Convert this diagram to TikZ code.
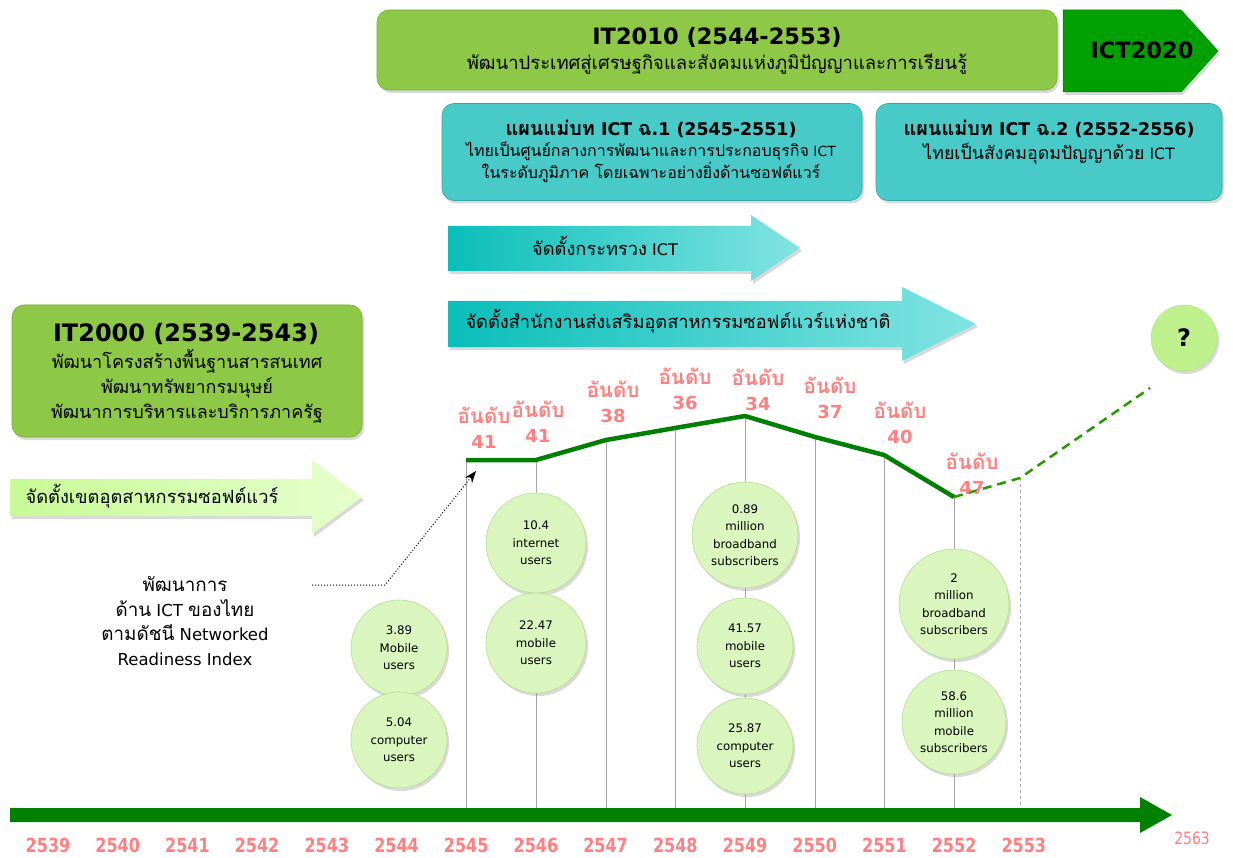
\documentclass[tikz,border=0pt]{standalone}
\usepackage{fontspec}
\setmainfont{DejaVu Sans}
\newfontfamily\thaif{Loma}[Script=Thai,Scale=1.14]
\newfontfamily\yearf{DejaVu Sans}[FakeStretch=0.82]
\usetikzlibrary{shadows,arrows.meta,calc}
\definecolor{itgreen}{RGB}{141,200,70}
\definecolor{itgreenD}{RGB}{118,172,52}
\definecolor{ictgreen}{RGB}{0,160,0}
\definecolor{planteal}{RGB}{72,202,200}
\definecolor{planD}{RGB}{48,168,166}
\definecolor{arrL}{RGB}{10,190,185}
\definecolor{arrR}{RGB}{130,228,226}
\definecolor{lgL}{RGB}{200,250,150}
\definecolor{lgR}{RGB}{230,255,205}
\definecolor{circfill}{RGB}{218,246,190}
\definecolor{circD}{RGB}{180,222,145}
\definecolor{qgreen}{RGB}{190,240,140}
\definecolor{chart}{RGB}{0,128,0}
\definecolor{rankpink}{RGB}{255,128,128}
\begin{document}
\begin{tikzpicture}[x=1pt,y=-1pt,
  shd/.style={drop shadow={shadow xshift=2pt,shadow yshift=-3pt,opacity=0.3}},
  gbox/.style={rounded corners=12pt,fill=itgreen,draw=itgreenD,line width=0.6pt,shd},
  tbox/.style={rounded corners=12pt,fill=planteal,draw=planD,line width=0.6pt,shd},
  circ/.style={circle,minimum size=96pt,inner sep=0pt,fill=circfill,draw=circD,line width=0.6pt,shd,align=center,font=\fontsize{11.8}{17.5}\selectfont},
  ttl/.style={font=\bfseries\fontsize{22.5}{26}\selectfont,inner sep=0pt},
  sub/.style={font=\fontsize{16}{20}\selectfont,inner sep=0pt,align=center},
  rank/.style={text=rankpink,font=\bfseries\fontsize{18}{25}\selectfont,align=center,inner sep=0pt},
  year/.style={text=rankpink,font=\yearf\bfseries\fontsize{19.5}{20}\selectfont,inner sep=0pt,anchor=base},
  vline/.style={draw=gray!70,line width=0.8pt},
  chartline/.style={draw=chart,line width=4.5pt,line join=round},
  futline/.style={draw=chart!80!lime,line width=2.5pt,dash pattern=on 9pt off 6pt},
  dotarrow/.style={draw=black,line width=1pt,dotted,-{Stealth[length=12pt,width=9pt]}}
]
\useasboundingbox (0,0) rectangle (1233,858);

% --- top: IT2010 and ICT2020
\node[gbox,minimum width=680pt,minimum height=80pt] (it2010) at (717,50) {};
\node[ttl] (it2010t) at (717,37) {IT2010 (2544-2553)};
\node[sub,font=\thaif\fontsize{16.2}{20}\selectfont] (it2010s) at (717,64) {พัฒนาประเทศสู่เศรษฐกิจและสังคมแห่งภูมิปัญญาและการเรียนรู้};
\path[fill=ictgreen,draw=ictgreen!80!black,line width=0.5pt,shd] (1063,10) -- (1181,10) -- (1218,51) -- (1181,92) -- (1063,92) -- cycle;
\node[ttl] (ict2020) at (1142,50) {ICT2020};

% --- plans
\node[tbox,minimum width=420pt,minimum height=97pt] (plan1) at (652,152) {};
\node[ttl,font=\bfseries\fontsize{17.4}{22}\selectfont] (plan1t) at (651,129) {{\thaif แผนแม่บท} ICT {\thaif ฉ}.1 (2545-2551)};
\node[sub,font=\fontsize{14}{20.5}\selectfont] (plan1s) at (651,162) {{\thaif ไทยเป็นศูนย์กลางการพัฒนาและการประกอบธุรกิจ} ICT\\{\thaif ในระดับภูมิภาค โดยเฉพาะอย่างยิ่งด้านซอฟต์แวร์}};
\node[tbox,minimum width=346pt,minimum height=97pt] (plan2) at (1049,152) {};
\node[ttl,font=\bfseries\fontsize{17.4}{22}\selectfont] (plan2t) at (1049,129) {{\thaif แผนแม่บท} ICT {\thaif ฉ}.2 (2552-2556)};
\node[sub,font=\fontsize{15.6}{20}\selectfont] (plan2s) at (1049,154) {{\thaif ไทยเป็นสังคมอุดมปัญญาด้วย} ICT};

% --- teal arrows
\path[left color=arrL,right color=arrR,shd] (448,226) -- (751,226) -- (751,215) -- (800,248) -- (751,281) -- (751,271) -- (448,271) -- cycle;
\node[sub] (arr1) at (605,246) {{\thaif จัดตั้งกระทรวง} ICT};
\path[left color=arrL,right color=arrR,shd] (448,301) -- (902,301) -- (902,287) -- (976,324) -- (902,361) -- (902,347) -- (448,347) -- cycle;
\node[sub,font=\thaif\fontsize{16}{20}\selectfont] (arr2) at (678,321) {จัดตั้งสำนักงานส่งเสริมอุตสาหกรรมซอฟต์แวร์แห่งชาติ};

% --- IT2000
\node[gbox,minimum width=350pt,minimum height=132pt] (it2000) at (187,371) {};
\node[ttl,font=\bfseries\fontsize{24}{28}\selectfont] (it2000t) at (186,334) {IT2000 (2539-2543)};
\node[sub,font=\thaif\fontsize{15.8}{25}\selectfont] (it2000s) at (187,386) {พัฒนาโครงสร้างพื้นฐานสารสนเทศ\\พัฒนาทรัพยากรมนุษย์\\พัฒนาการบริหารและบริการภาครัฐ};
\path[left color=lgL,right color=lgR,shd] (10,479) -- (312,479) -- (312,460) -- (362,497) -- (312,534) -- (312,516) -- (10,516) -- cycle;
\node[sub,font=\thaif\fontsize{16}{20}\selectfont] (arr0) at (152,496) {จัดตั้งเขตอุตสาหกรรมซอฟต์แวร์};

% --- chart coordinates
\coordinate (p1) at (466,460);
\coordinate (p2) at (536,460);
\coordinate (p3) at (606,440);
\coordinate (p4) at (675,428);
\coordinate (p5) at (745,416);
\coordinate (p6) at (815,437);
\coordinate (p7) at (884,455);
\coordinate (p8) at (954,497);
\coordinate (f1) at (1020,478);
\coordinate (f2) at (1150,388);
\coordinate (ax) at (0,815);

% vertical lines
\foreach \p in {p1,p2,p3,p4,p5,p6,p7,p8} \draw[vline] (\p) -- (\p |- ax);
\draw[vline,dashed] (f1) -- (f1 |- ax);

% axis
\path[fill=chart] (10,808) -- (1140,808) -- (1140,797) -- (1172,815) -- (1140,833) -- (1140,822) -- (10,822) -- cycle;
\foreach \yr [count=\i from 0] in {2539,2540,2541,2542,2543,2544,2545,2546,2547,2548,2549,2550,2551,2552,2553}
  \node[year] (y\yr) at ({48+69.7*\i},852) {\yr};
\node[year,font=\yearf\fontsize{17}{20}\selectfont] (y2563) at (1192,844) {2563};

% circles
\node[circ] (c1) at (399,648) {3.89\\Mobile\\users};
\node[circ] (c2) at (399,740) {5.04\\computer\\users};
\node[circ,minimum size=100pt] (c3) at (536,543) {10.4\\internet\\users};
\node[circ,minimum size=100pt] (c4) at (536,643) {22.47\\mobile\\users};
\node[circ,minimum size=106pt] (c5) at (745,535) {0.89\\million\\broadband\\subscribers};
\node[circ] (c6) at (745,646) {41.57\\mobile\\users};
\node[circ] (c7) at (745,746) {25.87\\computer\\users};
\node[circ,minimum size=110pt] (c8) at (954,604) {2\\million\\broadband\\subscribers};
\node[circ,minimum size=104pt] (c9) at (954,722) {58.6\\million\\mobile\\subscribers};

% chart line
\draw[chartline] (p1) -- (p2) -- (p3) -- (p4) -- (p5) -- (p6) -- (p7) -- (p8);
\draw[futline] (p8) -- (f1) -- (f2);
\node[circle,minimum size=66pt,inner sep=0pt,fill=qgreen,draw=circD,shd,font=\bfseries\fontsize{24}{28}\selectfont] (q) at (1184,338) {?};

% rank labels
\node[rank] (r1) at (484,428) {{\thaif อันดับ}\\41};
\node[rank] (r2) at (538,422) {{\thaif อันดับ}\\41};
\node[rank] (r3) at (613,402) {{\thaif อันดับ}\\38};
\node[rank] (r4) at (685,389) {{\thaif อันดับ}\\36};
\node[rank] (r5) at (758,390) {{\thaif อันดับ}\\34};
\node[rank] (r6) at (830,398) {{\thaif อันดับ}\\37};
\node[rank] (r7) at (900,423) {{\thaif อันดับ}\\40};
\node[rank] (r8) at (972,474) {{\thaif อันดับ}\\47};

% annotation
\node[sub,font=\fontsize{16.5}{24.5}\selectfont] (note) at (185,621) {{\thaif พัฒนาการ}\\{\thaif ด้าน} ICT {\thaif ของไทย}\\{\thaif ตามดัชนี} Networked\\Readiness Index};
\coordinate (d0) at (312,585);
\coordinate (d1) at (385,585);
\coordinate (d2) at ($(p1)+(10,11)$);
\draw[dotarrow] (d0) -- (d1) -- (d2);
\end{tikzpicture}
\end{document}
